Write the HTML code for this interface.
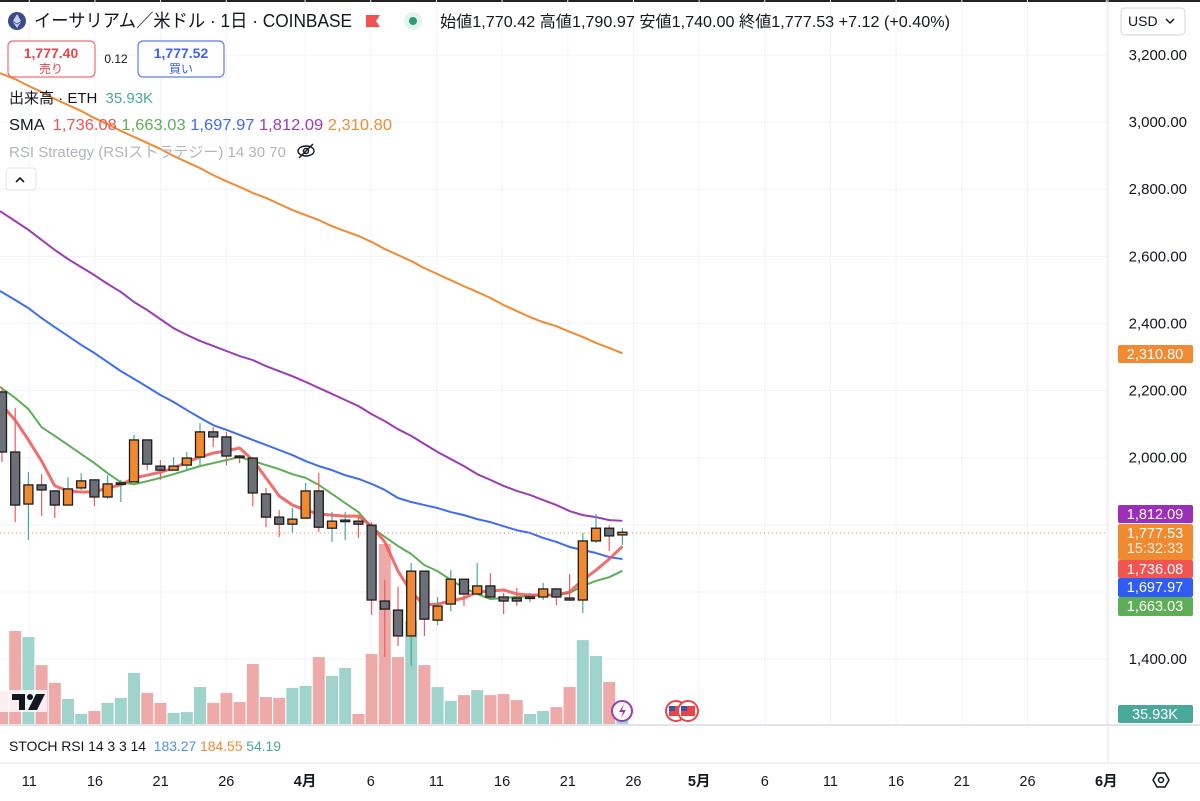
<!DOCTYPE html>
<html><head><meta charset="utf-8">
<style>
body{margin:0;background:#fff;width:1200px;height:796px;overflow:hidden;font-family:"Liberation Sans","Noto Sans CJK JP",sans-serif;}
svg text{font-family:"Liberation Sans","Noto Sans CJK JP",sans-serif;}
</style></head>
<body>
<svg id="chart" width="1200" height="796" viewBox="0 0 1200 796" xmlns="http://www.w3.org/2000/svg">
<rect x="0" y="0" width="1200" height="796" fill="#fff"/>
<rect x="0" y="0" width="1200" height="2" fill="#222"/>
<g id="grid"></g>
<g id="vol"></g>
<g id="smas"></g>
<line x1="0" x2="1108" y1="533" y2="533" stroke="#f0923a" stroke-width="1" stroke-dasharray="1,3"/>
<g id="candles"></g>
<line x1="1108" y1="0" x2="1108" y2="763" stroke="#e6e6e6"/>
<line x1="0" y1="725" x2="1200" y2="725" stroke="#e0e3eb" stroke-width="2"/>
<line x1="0" y1="763" x2="1200" y2="763" stroke="#e0e3eb" stroke-width="1"/>
<g id="yaxis" font-size="15" fill="#131722" text-anchor="end"></g>
<g id="xaxis" font-size="14.5" fill="#131722" text-anchor="middle"></g>
<g id="tags" font-size="14.5" text-anchor="middle" fill="#fff"></g>

<!-- header -->
<g>
<circle cx="17" cy="21" r="9" fill="#3c4a8a"/>
<path d="M17 14 L21 21 L17 23.5 L13 21 Z M17 24.5 L21 22 L17 28 L13 22Z" fill="#c7d0ff"/>
<text x="34" y="27" font-size="18" fill="#131722" textLength="318" lengthAdjust="spacingAndGlyphs">イーサリアム／米ドル · 1日 · COINBASE</text>
</g>
<path d="M366 15 h14 l-4 6 l4 6 h-14z" fill="#f0524f"/>
<circle cx="413" cy="21" r="9" fill="#e3f3ee"/><circle cx="413" cy="21" r="4" fill="#2e9b76"/>
<text x="440" y="27" font-size="16" fill="#131722" textLength="510" lengthAdjust="spacingAndGlyphs">始値1,770.42 高値1,790.97 安値1,740.00 終値1,777.53 +7.12 (+0.40%)</text>
<rect x="1121" y="8" width="64" height="27" rx="4" fill="#fff" stroke="#d1d4dc"/>
<text x="1128" y="26" font-size="14" fill="#131722">USD</text>
<path d="M1166 19 l4 4 l4 -4" fill="none" stroke="#131722" stroke-width="1.5"/>

<g>
<rect x="8" y="41" width="87" height="36" rx="5" fill="#fff" stroke="#f26d6d" stroke-width="1.2"/>
<text x="51" y="58" font-size="14" fill="#e8454b" text-anchor="middle" font-weight="bold">1,777.40</text>
<text x="51" y="73" font-size="12" fill="#e8454b" text-anchor="middle">売り</text>
</g>
<text x="116" y="63" font-size="12" fill="#131722" text-anchor="middle">0.12</text>
<g>
<rect x="138" y="41" width="86" height="36" rx="5" fill="#fff" stroke="#5b7cf7" stroke-width="1.2"/>
<text x="181" y="58" font-size="14" fill="#3f63f0" text-anchor="middle" font-weight="bold">1,777.52</text>
<text x="181" y="73" font-size="12" fill="#3f63f0" text-anchor="middle">買い</text>
</g>
<text x="9" y="103" font-size="15" fill="#131722">出来高 · ETH <tspan fill="#4aa89a" dx="4">35.93K</tspan></text>
<text x="9" y="130" font-size="15.5" fill="#131722" textLength="383" lengthAdjust="spacingAndGlyphs">SMA <tspan dx="4" fill="#f05552">1,736.08</tspan> <tspan fill="#5fae57">1,663.03</tspan> <tspan fill="#3e6cf4">1,697.97</tspan> <tspan fill="#9b3cb6">1,812.09</tspan> <tspan fill="#f08a33">2,310.80</tspan></text>
<text x="9" y="157" font-size="15" fill="#b2b5be" textLength="277" lengthAdjust="spacingAndGlyphs">RSI Strategy (RSIストラテジー) 14 30 70</text>
<g fill="none" stroke="#131722" stroke-width="1.4">
<ellipse cx="306" cy="151" rx="8" ry="5"/><circle cx="306" cy="151" r="2.5"/><line x1="299" y1="158" x2="313" y2="144"/></g>
<g>
<rect x="6" y="168" width="30" height="22" rx="3" fill="#fff" stroke="#e0e3eb"/>
<path d="M16 182 l4 -4 l4 4" fill="none" stroke="#131722" stroke-width="1.6"/></g>

<g>
<rect x="0" y="690" width="47" height="22" fill="#fff" opacity="0.8"/>
<path d="M12 694 h13 v16 h-6 v-10 h-7z" fill="#131722"/><circle cx="30" cy="697" r="3" fill="#131722"/><path d="M36 694 h9 l-8 16 h-9z" fill="#131722"/></g>
<g><circle cx="622" cy="711" r="10" fill="#fff" stroke="#9b3cb6" stroke-width="2"/><path d="M624 704 l-5 8 h4 l-2 6 l5 -8 h-4z" fill="#9b3cb6"/></g>
<g>
<circle cx="676" cy="711" r="10" fill="#fff" stroke="#e8454b" stroke-width="2"/><rect x="669" y="706" width="14" height="10" fill="#e8454b"/><rect x="669" y="706" width="6" height="5" fill="#3b55a0"/>
<circle cx="688" cy="711" r="10" fill="#fff" stroke="#e8454b" stroke-width="2"/><rect x="681" y="706" width="14" height="10" fill="#e8454b"/><rect x="681" y="706" width="6" height="5" fill="#3b55a0"/></g>

<text x="9" y="751" font-size="14" fill="#131722" textLength="272" lengthAdjust="spacing">STOCH RSI 14 3 3 14 <tspan dx="4" fill="#4f8ef0">183.27</tspan> <tspan fill="#f08a33">184.55</tspan> <tspan fill="#4aa89a">54.19</tspan></text>
<g><path d="M1153 780 l4 -7 h8 l4 7 l-4 7 h-8z" fill="none" stroke="#131722" stroke-width="1.5"/><circle cx="1161" cy="780" r="2.5" fill="none" stroke="#131722" stroke-width="1.5"/></g>
</svg>
<script>
const opens  =[2196,2017,1862,1919,1901,1859,1910,1934,1883,1922,1928,2053,1975,1963,1978,2002,2077,2062,2005,1999,1892,1823,1802,1820,1901,1790,1811,1811,1799,1573,1546,1469,1662,1516,1564,1638,1594,1618,1585,1582,1582,1585,1609,1582,1576,1752,1790,1770];
const highs  =[2210,2148,1957,1951,1904,1942,1954,1934,1948,1934,2068,2053,1993,2002,2017,2103,2091,2077,2008,1999,1910,1844,1850,1925,1955,1838,1838,1823,1808,1636,1615,1686,1662,1585,1665,1638,1686,1656,1597,1612,1597,1627,1612,1653,1776,1832,1799,1791];
const lows   =[1987,1808,1755,1826,1820,1859,1904,1856,1877,1868,1928,1963,1934,1963,1963,1972,2032,1978,1984,1856,1793,1764,1776,1820,1778,1749,1755,1761,1531,1406,1439,1379,1469,1501,1543,1558,1594,1582,1534,1558,1570,1576,1561,1573,1537,1746,1722,1740];
const closes =[2017,1859,1919,1904,1859,1907,1931,1883,1922,1925,2053,1981,1963,1975,1999,2077,2062,2005,2002,1895,1823,1802,1817,1901,1793,1811,1814,1802,1576,1549,1469,1662,1519,1558,1638,1594,1618,1585,1573,1573,1585,1609,1585,1576,1752,1790,1767,1778];
const volumesK=[119,335,313,212,148,90,36,47,76,94,184,112,76,40,43,133,76,112,79,216,97,94,130,137,241,173,202,36,252,648,241,371,212,133,83,104,122,104,108,86,36,47,61,133,302,245,151,36];
const sma5  =[2163,2112,2053,1990,1916,1901,1898,1898,1910,1919,1940,1948,1957,1969,1987,2002,2014,2020,2029,1993,1940,1886,1859,1844,1832,1829,1826,1826,1796,1749,1662,1600,1561,1564,1573,1582,1600,1603,1606,1594,1591,1591,1591,1600,1636,1665,1698,1736];
const sma10 =[2211,2178,2145,2091,2065,2038,2011,1984,1954,1927,1921,1930,1940,1951,1963,1975,1984,1993,2002,1990,1978,1966,1951,1940,1919,1892,1865,1838,1793,1764,1737,1713,1680,1662,1636,1612,1594,1579,1582,1585,1588,1591,1591,1597,1618,1633,1644,1663];
const sma20 =[2497,2470,2446,2416,2389,2363,2336,2312,2285,2258,2235,2211,2187,2166,2142,2119,2097,2083,2068,2053,2038,2023,2008,1990,1975,1963,1948,1937,1922,1904,1880,1868,1859,1850,1838,1829,1817,1808,1796,1784,1776,1761,1749,1734,1725,1716,1704,1698];
const sma50 =[2735,2705,2679,2649,2619,2592,2568,2544,2518,2494,2464,2440,2413,2386,2366,2348,2333,2318,2303,2291,2273,2258,2243,2226,2208,2190,2172,2154,2130,2109,2085,2065,2041,2017,1996,1975,1951,1934,1916,1901,1889,1874,1859,1841,1829,1823,1814,1812];
const sma200=[3146,3128,3108,3090,3069,3051,3033,3012,2994,2974,2956,2938,2920,2899,2881,2863,2842,2824,2807,2789,2774,2756,2738,2723,2708,2690,2675,2661,2643,2622,2604,2586,2565,2547,2529,2511,2494,2476,2455,2437,2419,2404,2392,2375,2360,2342,2327,2311];
const priceTicks=[3200,3000,2800,2600,2400,2200,2000,1800,1600,1400];
const priceTickLabels=["3,200.00","3,000.00","2,800.00","2,600.00","2,400.00","2,200.00","2,000.00","","","1,400.00"];
const dateLabels=["11","16","21","26","4月","6","11","16","21","26","5月","6","11","16","21","26","6月"];
const dateOffsets=[2,7,12,17,23,28,33,38,43,48,53,58,63,68,73,78,84];

const NS="http://www.w3.org/2000/svg";
const X0=2, STEP=13.2;
function xAt(i){return X0+i*STEP;}
function yP(p){return 55+(3200-p)*0.3356;}
function yV(v){return 724-v/3.6;}
function mk(tag,attrs,parent){const e=document.createElementNS(NS,tag);for(const k in attrs)e.setAttribute(k,attrs[k]);parent.appendChild(e);return e;}

const grid=document.getElementById('grid');
priceTicks.forEach((p,i)=>{
  const l=mk('line',{x1:0,x2:1108,y1:yP(p),y2:yP(p),stroke:'#f0f3fa'},grid);
  
  
});
const yax=document.getElementById('yaxis');
priceTicks.forEach((p,i)=>{
  if(!priceTickLabels[i])return;
  const t=mk('text',{x:1187,y:yP(p)+5},yax);t.textContent=priceTickLabels[i];
  
  
});
const xax=document.getElementById('xaxis');
dateLabels.forEach((d,i)=>{
  const x=X0+dateOffsets[i]*STEP*0.995+1;
  const l=mk('line',{x1:x,x2:x,y1:0,y2:725,stroke:'#f0f3fa'},grid);
  
  
  const t=mk('text',{x:x,y:786,'font-weight':d.indexOf('月')>=0?'bold':'normal'},xax);t.textContent=d;
  
  
});

const vol=document.getElementById('vol');
volumesK.forEach((v,i)=>{
  const up=closes[i]>=opens[i];
  const r=mk('rect',{x:xAt(i)-6,y:yV(v),width:12,height:724-yV(v),fill:up?'#9fd3cc':'#eeaaa8'},vol);
  
  
});

const smaG=document.getElementById('smas');
[[sma200,'#f08a33','sma-200-line'],[sma50,'#9b3cb6','sma-50-line'],[sma20,'#3e6cf4','sma-20-line'],[sma10,'#5fae57','sma-10-line'],[sma5,'#f05552','sma-5-line']].forEach(([arr,c,n])=>{
  const pts=arr.map((v,i)=>(i===0?0:xAt(i))+','+yP(v)).join(' ');
  const pl=mk('polyline',{points:pts,fill:'none',stroke:c,'stroke-width':n==='sma-5-line'?3:2,'stroke-linejoin':'round','stroke-opacity':n==='sma-5-line'?0.85:1},smaG);
  
  
});

const cg=document.getElementById('candles');
opens.forEach((o,i)=>{
  const c=closes[i],up=c>=o,x=xAt(i);
  const g=mk('g',{},cg);
  
  
  mk('line',{x1:x,x2:x,y1:yP(highs[i]),y2:yP(lows[i]),stroke:up?'#4aa89a':'#ee5a5e','stroke-width':1.2},g);
  const top=yP(Math.max(o,c)),bot=yP(Math.min(o,c));
  mk('rect',{x:x-4.5,y:top,width:9,height:Math.max(bot-top,1.5),fill:up?'#ef8a30':'#6c6f78',stroke:'#1c1c1c','stroke-width':1.3},g);
});

const tags=document.getElementById('tags');
[['2,310.80','#f08a33',345,18,'sma-200-tag'],['1,812.09','#9b2fb8',505,18,'sma-50-tag'],['1,777.53','#ef8a30',524,36,'last-price-tag'],['1,736.08','#f05552',560,18,'sma-5-tag'],['1,697.97','#2f5cf5',578,19,'sma-20-tag'],['1,663.03','#5fae57',597,19,'sma-10-tag'],['35.93K','#4aa89a',705,18,'volume-tag']].forEach(([t,c,y,h,n])=>{
  const r=mk('rect',{x:1118,y:y,width:75,height:h,rx:2,fill:c},tags);
  
  
  const tx=mk('text',{x:1155,y:y+14},tags);tx.textContent=t;
  
  
});
const cd=mk('text',{x:1155,y:553,'fill-opacity':0.85},tags);cd.textContent='15:32:33';


</script>
</body></html>
